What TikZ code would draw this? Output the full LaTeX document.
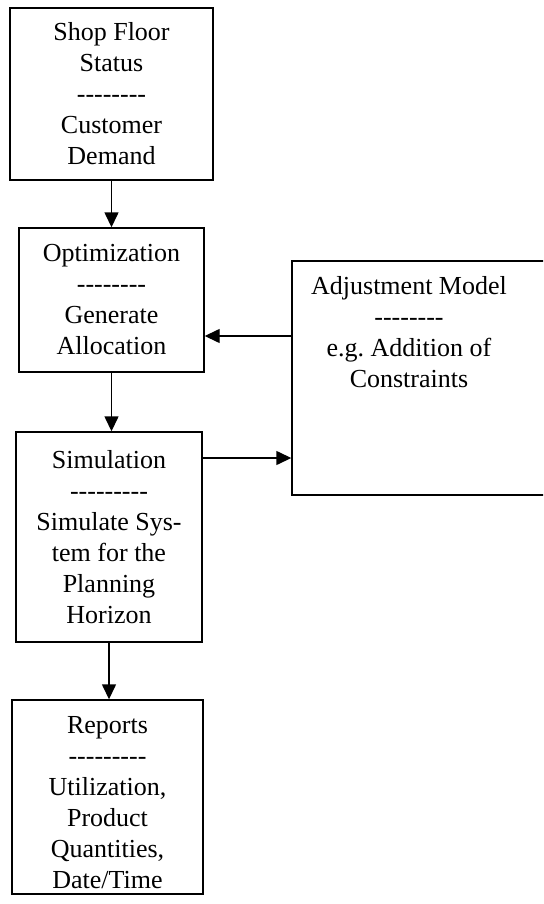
\documentclass[tikz,border=0pt]{standalone}
\usepackage{fontspec}
\setmainfont{Liberation Serif}[Ligatures=TeXOff]
\usetikzlibrary{arrows.meta, positioning, calc}
\frenchspacing

\begin{document}
\begin{tikzpicture}[x=1pt, y=-1pt, font=\fontsize{26}{31}\selectfont,
    box/.style={rectangle, draw, line width=1.4pt, align=center, inner sep=0pt},
    arr/.style={line width=1.4pt, -{Triangle[length=15pt, width=14pt]}}]
  \useasboundingbox (0,0) rectangle (543,904);
  \clip (0,0) rectangle (543,904);
  % --- main chain: inputs, optimization, simulation, reports ---
  \node[box, minimum width=203pt, minimum height=172pt] (shop) at (111.5,94)
    {Shop Floor\\Status\\--------\\Customer\\Demand};
  \node[box, minimum width=185pt, minimum height=144pt] (opt) at (111.5,300)
    {Optimization\\--------\\Generate\\Allocation};
  \node[box, minimum width=186pt, minimum height=210pt] (sim) at (109,537)
    {Simulation\\---------\\Simulate Sys-\\tem for the\\Planning\\Horizon};
  \node[box, minimum width=191pt, minimum height=194pt] (rep) at (107.5,797)
    {\rule{0pt}{28pt}Reports\\---------\\Utilization,\\Product\\Quantities,\\Date/Time};
  % --- adjustment model (runs off the right edge) ---
  \node[box, minimum width=268pt, minimum height=234pt] (adj) at (426,378) {};
  \node[align=center, inner sep=0pt, anchor=north] (adjtext) at (409,276)
    {Adjustment Model\\--------\\e.g. Addition of\\Constraints};
  % --- connectors ---
  \coordinate (fb) at (0,336);
  \coordinate (fw) at (0,458);
  \draw[arr] (shop.south) -- (shop.south |- opt.north);
  \draw[arr] (opt.south) -- (opt.south |- sim.north);
  \draw[arr] (adj.west |- fb) -- (opt.east |- fb);
  \draw[arr] (sim.east |- fw) -- (adj.west |- fw);
  \draw[arr] (sim.south) -- (sim.south |- rep.north);
\end{tikzpicture}
\end{document}
